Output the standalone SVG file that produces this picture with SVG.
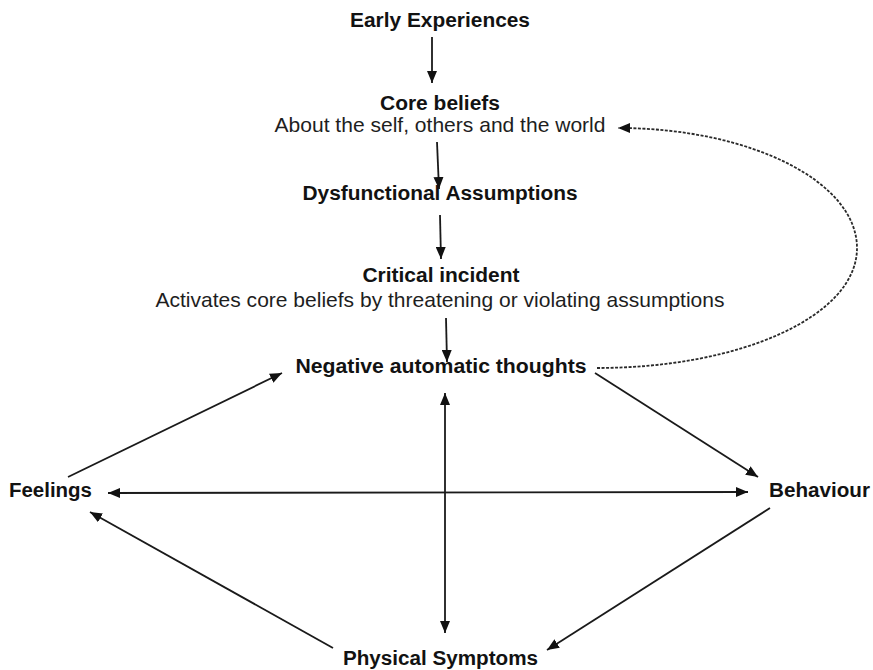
<svg xmlns="http://www.w3.org/2000/svg" width="873" height="670" viewBox="0 0 873 670">
<style>
text{font-family:"Liberation Sans",Arial,sans-serif;fill:#121212;text-anchor:middle}
.b{font-weight:bold;font-size:20px}
.r{font-size:21px;fill:#1e1e1e}
.c{stroke:#1a1a1a;stroke-width:1.8;fill:none}
.d{stroke:#2a2a2a;stroke-width:1.8;fill:none;stroke-dasharray:3 1.5}
</style>
<defs>
<marker id="ah" viewBox="0 0 12 10" refX="12" refY="5" markerWidth="12" markerHeight="10" markerUnits="userSpaceOnUse" orient="auto-start-reverse">
<path d="M0,0 L12,5 L0,10 Z" fill="#111"/>
</marker>
</defs>
<rect width="873" height="670" fill="#fff"/>
<g id="connectors">
<line class="c" x1="432" y1="37" x2="432" y2="83" marker-end="url(#ah)"/>
<line class="c" x1="437" y1="142" x2="439" y2="189" marker-end="url(#ah)"/>
<line class="c" x1="440" y1="215" x2="441" y2="259" marker-end="url(#ah)"/>
<line class="c" x1="446" y1="318" x2="447" y2="362" marker-end="url(#ah)"/>
<path class="d" d="M597,368 C741,368 857,316 857,248 C857,182 751,128 618,128" marker-end="url(#ah)"/>
<line class="c" x1="68" y1="477" x2="282" y2="373" marker-end="url(#ah)"/>
<line class="c" x1="595" y1="373" x2="758" y2="477" marker-end="url(#ah)"/>
<line class="c" x1="108" y1="493" x2="748" y2="492" marker-start="url(#ah)" marker-end="url(#ah)"/>
<line class="c" x1="445" y1="393" x2="445" y2="633" marker-start="url(#ah)" marker-end="url(#ah)"/>
<line class="c" x1="770" y1="508" x2="547" y2="650" marker-end="url(#ah)"/>
<line class="c" x1="333" y1="648" x2="90" y2="512" marker-end="url(#ah)"/>
</g>
<g id="early"><text class="b" x="440" y="27" textLength="180" lengthAdjust="spacingAndGlyphs">Early Experiences</text></g>
<g id="core">
<text class="b" x="440" y="110" textLength="120" lengthAdjust="spacingAndGlyphs">Core beliefs</text>
<text class="r" x="440" y="132" textLength="331" lengthAdjust="spacingAndGlyphs">About the self, others and the world</text>
</g>
<g id="dysfunctional"><text class="b" x="440" y="200" textLength="275" lengthAdjust="spacingAndGlyphs">Dysfunctional Assumptions</text></g>
<g id="critical">
<text class="b" x="441" y="282" textLength="157" lengthAdjust="spacingAndGlyphs">Critical incident</text>
<text class="r" x="440" y="307" textLength="569" lengthAdjust="spacingAndGlyphs">Activates core beliefs by threatening or violating assumptions</text>
</g>
<g id="nat"><text class="b" x="441" y="373" textLength="291" lengthAdjust="spacingAndGlyphs">Negative automatic thoughts</text></g>
<g id="feelings"><text class="b" x="50.5" y="497" textLength="83" lengthAdjust="spacingAndGlyphs">Feelings</text></g>
<g id="behaviour"><text class="b" x="819.5" y="497" textLength="101" lengthAdjust="spacingAndGlyphs">Behaviour</text></g>
<g id="physical"><text class="b" x="440.5" y="665" textLength="195" lengthAdjust="spacingAndGlyphs">Physical Symptoms</text></g>
</svg>
